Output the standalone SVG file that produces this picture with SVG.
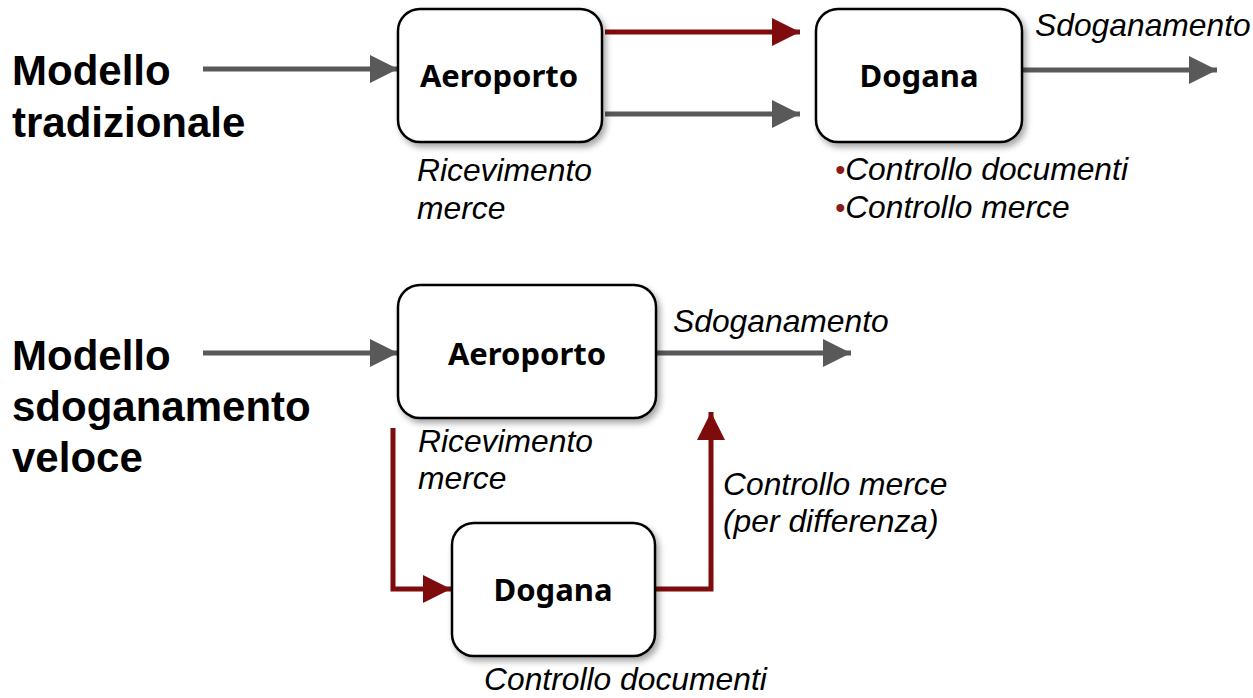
<svg xmlns="http://www.w3.org/2000/svg" width="1253" height="698" viewBox="0 0 1253 698">
<style>
.box{fill:#fff;stroke:#000;stroke-width:2.5;filter:url(#sh)}
.bl{font-family:"Noto Sans","Liberation Sans",sans-serif;font-weight:bold;font-size:31px;fill:#000;text-anchor:middle}
.lab{font-family:"Liberation Sans",Arial,sans-serif;font-style:italic;font-size:31.8px;fill:#000}
.big{font-family:"Liberation Sans",Arial,sans-serif;font-weight:bold;font-size:42px;fill:#000}
.g{fill:none;stroke:#595959;stroke-width:5}
.r{fill:none;stroke:#7f0c0c;stroke-width:5}
.bul{fill:#8b1a1a;font-size:29px}
</style>
<defs>
<filter id="sh" x="-10%" y="-10%" width="130%" height="130%">
<feDropShadow dx="3" dy="4" stdDeviation="3" flood-color="#000" flood-opacity="0.35"/>
</filter>
<marker id="ag" markerUnits="userSpaceOnUse" markerWidth="28" markerHeight="28" viewBox="0 0 26 26" refX="26" refY="13" orient="auto"><path d="M0,0 L26,13 L0,26 Z" fill="#595959"/></marker>
<marker id="ar" markerUnits="userSpaceOnUse" markerWidth="28" markerHeight="28" viewBox="0 0 26 26" refX="26" refY="13" orient="auto"><path d="M0,0 L26,13 L0,26 Z" fill="#7f0c0c"/></marker>
</defs>

<text class="big" x="12" y="85">Modello</text>
<text class="big" x="12" y="137">tradizionale</text>
<text class="big" x="12" y="370">Modello</text>
<text class="big" x="12" y="421">sdoganamento</text>
<text class="big" x="12" y="472">veloce</text>

<g id="connectors">
<line class="g" x1="203" y1="69" x2="398" y2="69" marker-end="url(#ag)"/>
<line class="r" x1="605" y1="32" x2="800" y2="32" marker-end="url(#ar)"/>
<line class="g" x1="605" y1="114" x2="800" y2="114" marker-end="url(#ag)"/>
<line class="g" x1="1022" y1="70" x2="1217" y2="70" marker-end="url(#ag)"/>
<line class="g" x1="203" y1="353" x2="398" y2="353" marker-end="url(#ag)"/>
<line class="g" x1="656" y1="353" x2="851" y2="353" marker-end="url(#ag)"/>
<polyline class="r" points="393,428 393,589 451,589" marker-end="url(#ar)"/>
<polyline class="r" points="655,589 711,589 711,412" marker-end="url(#ar)"/>
</g>

<g id="aeroporto1">
<rect class="box" x="398" y="9" width="204" height="133" rx="22"/>
<text class="bl" x="499" y="87">Aeroporto</text>
</g>
<g id="dogana1">
<rect class="box" x="816" y="9" width="206" height="133" rx="22"/>
<text class="bl" x="919" y="87">Dogana</text>
</g>
<g id="aeroporto2">
<rect class="box" x="398" y="285" width="258" height="133" rx="22"/>
<text class="bl" x="527" y="365">Aeroporto</text>
</g>
<g id="dogana2">
<rect class="box" x="452" y="523" width="203" height="133" rx="22"/>
<text class="bl" x="553" y="601">Dogana</text>
</g>

<text class="lab" x="417" y="181">Ricevimento</text>
<text class="lab" x="417" y="219">merce</text>
<text class="lab" x="1035" y="36">Sdoganamento</text>
<text class="lab" x="835" y="180"><tspan class="bul">•</tspan>Controllo documenti</text>
<text class="lab" x="835" y="218"><tspan class="bul">•</tspan>Controllo merce</text>

<text class="lab" x="673" y="332">Sdoganamento</text>
<text class="lab" x="418" y="452">Ricevimento</text>
<text class="lab" x="418" y="489">merce</text>
<text class="lab" x="723" y="495">Controllo merce</text>
<text class="lab" x="723" y="532">(per differenza)</text>
<text class="lab" x="484" y="690">Controllo documenti</text>
</svg>
